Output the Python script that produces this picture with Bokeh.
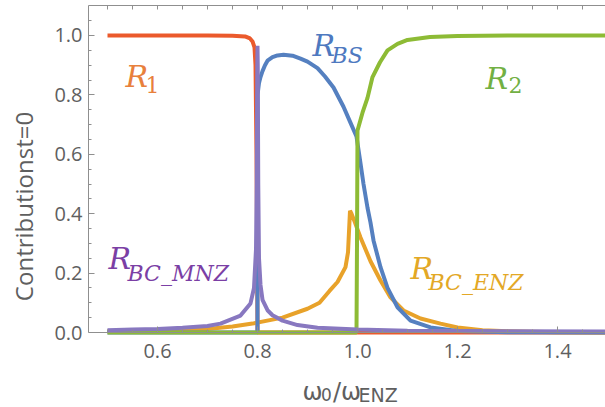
from bokeh.plotting import figure
from bokeh.models import LinearAxis, Range1d, FixedTicker, CustomJSTickFormatter
from bokeh.core.properties import value
from bokeh.embed import file_html
from bokeh.resources import INLINE

# ---- data ----
x_r1 = [0.50, 0.60, 0.70, 0.75, 0.775, 0.785, 0.79, 0.794, 0.796, 0.798, 0.7995, 0.800, 0.801, 0.90, 1.20, 1.50]
y_r1 = [1.0, 1.0, 1.0, 0.999, 0.997, 0.99, 0.98, 0.96, 0.90, 0.60, 0.20, 0.0, 0.0, 0.0, 0.0, 0.0]

x_enz = [0.50, 0.60, 0.70, 0.75, 0.79, 0.85, 0.90, 0.924, 0.944, 0.96, 0.976, 0.981, 0.985, 0.988,
         0.995, 1.006, 1.026, 1.046, 1.066, 1.092, 1.126, 1.166, 1.20, 1.25, 1.30, 1.40, 1.50]
y_enz = [0.004, 0.006, 0.012, 0.02, 0.03, 0.05, 0.08, 0.10, 0.14, 0.17, 0.22, 0.27, 0.41, 0.40,
         0.37, 0.32, 0.24, 0.175, 0.118, 0.074, 0.047, 0.03, 0.017, 0.008, 0.004, 0.001, 0.0]

x_bs = [0.50, 0.70, 0.800, 0.800, 0.803, 0.806, 0.81, 0.815, 0.82, 0.83, 0.84, 0.852, 0.87, 0.886,
        0.90, 0.92, 0.935, 0.952, 0.972, 0.985, 0.998, 1.006, 1.012, 1.02, 1.026, 1.032, 1.046,
        1.06, 1.08, 1.106, 1.146, 1.20, 1.30, 1.50]
y_bs = [0.0, 0.0, 0.0, 0.80, 0.84, 0.86, 0.88, 0.90, 0.915, 0.927, 0.933, 0.935, 0.932, 0.922,
        0.912, 0.89, 0.862, 0.825, 0.76, 0.71, 0.66, 0.57, 0.50, 0.42, 0.37, 0.31, 0.22,
        0.15, 0.085, 0.04, 0.017, 0.005, 0.001, 0.0]

x_r2 = [0.50, 0.90, 0.998, 0.999, 1.000, 1.01, 1.02, 1.03, 1.045, 1.06, 1.08, 1.10, 1.145, 1.20, 1.30, 1.50]
y_r2 = [0.0, 0.0, 0.0, 0.30, 0.68, 0.74, 0.79, 0.86, 0.91, 0.95, 0.972, 0.985, 0.995, 0.998, 1.0, 1.0]

x_mnz = [0.50, 0.55, 0.60, 0.65, 0.70, 0.726, 0.766, 0.786, 0.793, 0.797, 0.7985, 0.7995, 0.800,
         0.8005, 0.8015, 0.803, 0.806, 0.81, 0.82, 0.83, 0.85, 0.88, 0.92, 1.00, 1.10, 1.30, 1.50]
y_mnz = [0.008, 0.01, 0.012, 0.016, 0.022, 0.03, 0.057, 0.098, 0.15, 0.28, 0.50, 0.90, 0.965,
         0.90, 0.50, 0.25, 0.16, 0.11, 0.075, 0.058, 0.04, 0.025, 0.016, 0.01, 0.006, 0.004, 0.003]

x_ticks = [0.6, 0.8, 1.0, 1.2, 1.4]
x_minor = [0.5, 0.55, 0.65, 0.7, 0.75, 0.85, 0.9, 0.95, 1.05, 1.1, 1.15, 1.25, 1.3, 1.35, 1.45, 1.5]
y_ticks = [0.0, 0.2, 0.4, 0.6, 0.8, 1.0]
y_minor = [0.05, 0.1, 0.15, 0.25, 0.3, 0.35, 0.45, 0.5, 0.55, 0.65, 0.7, 0.75, 0.85, 0.9, 0.95, 1.05]
y_title = "Contributionst=0"
x_title_parts = ["ω", "0", "/ω", "ENZ"]

# ---- figure ----
p = figure(width=605, height=407, x_range=Range1d(0.462, 1.496), y_range=Range1d(-0.2525, 1.101),
           output_backend="svg", toolbar_location=None,
           min_border_left=88, min_border_bottom=0, min_border_top=5, min_border_right=0)
p.grid.visible = False
p.outline_line_color = None
p.background_fill_color = "white"
p.border_fill_color = "white"

AX = "#8f8f8f"
LBL = "#5f5f5f"

def style_axis(ax, ticks, minor):
    ax.ticker = FixedTicker(ticks=ticks, minor_ticks=minor)
    ax.axis_line_color = AX
    ax.major_tick_line_color = AX
    ax.minor_tick_line_color = AX
    ax.major_tick_in = 6
    ax.major_tick_out = 0
    ax.minor_tick_in = 3
    ax.minor_tick_out = 0
    ax.major_label_text_font = "Open Sans"
    ax.major_label_text_font_size = "20px"
    ax.major_label_text_color = LBL
    ax.formatter = CustomJSTickFormatter(code="return tick.toFixed(1);")

xa = p.xaxis[0]
ya = p.yaxis[0]
style_axis(xa, x_ticks, x_minor)
style_axis(ya, y_ticks, y_minor)
xa.fixed_location = 0.0
xa.major_label_standoff = 11
ya.major_label_standoff = 6
ya.bounds = (0.0, 1.101)
ya.axis_label = y_title
ya.axis_label_text_font = "Open Sans"
ya.axis_label_text_font_style = "normal"
ya.axis_label_text_font_size = "24px"
ya.axis_label_text_color = LBL
ya.axis_label_standoff = 11

# top frame edge: ticks only, no labels
top = LinearAxis()
top.ticker = FixedTicker(ticks=[], minor_ticks=sorted(x_ticks + x_minor))
top.axis_line_color = AX
top.minor_tick_line_color = AX
top.minor_tick_in = 4
top.minor_tick_out = 0
top.major_tick_out = 0
top.major_label_standoff = 0
p.add_layout(top, "above")

# ---- curves ----
W = 4
p.line(x_r1, y_r1, line_color="#EB5A2C", line_width=W)
p.line(x_enz, y_enz, line_color="#E8A22A", line_width=W)
p.line(x_bs, y_bs, line_color="#5580C0", line_width=W)
p.line(x_r2, y_r2, line_color="#8DBB35", line_width=W)
p.line(x_mnz, y_mnz, line_color="#8878C0", line_width=W)

# ---- curve labels ----
SERIF = "DejaVu Serif"

def lab(x, y, t, size, color, style="italic", font=SERIF):
    p.text(x=[x], y=[y], text=[t], text_font=value(font), text_font_size=value(size),
           text_font_style=style, text_color=color, text_baseline="alphabetic", text_align="left")

lab(0.536, 0.862, "R", "30px", "#E8803C")
lab(0.576, 0.835, "1", "22px", "#E8803C", "normal")
lab(0.910, 0.966, "R", "30px", "#4E79C0")
lab(0.948, 0.933, "BS", "22px", "#4E79C0")
lab(1.256, 0.855, "R", "30px", "#72B043")
lab(1.302, 0.832, "2", "22px", "#72B043", "normal")
lab(0.502, 0.249, "R", "30px", "#7B3FA5")
lab(0.540, 0.199, "BC_MNZ", "22px", "#7B3FA5")
lab(1.106, 0.215, "R", "30px", "#E3A826")
lab(1.142, 0.168, "BC_ENZ", "22px", "#E3A826")

# ---- x-axis title with subscripts ----
lab(0.890, -0.200, x_title_parts[0], "24px", LBL, "normal", "DejaVu Sans")
lab(0.927, -0.210, x_title_parts[1], "17px", LBL, "normal", "DejaVu Sans")
lab(0.951, -0.200, x_title_parts[2], "24px", LBL, "normal", "DejaVu Sans")
lab(1.002, -0.210, x_title_parts[3], "19px", LBL, "normal", "DejaVu Sans")

open("out.html", "w").write(file_html(p, INLINE))
